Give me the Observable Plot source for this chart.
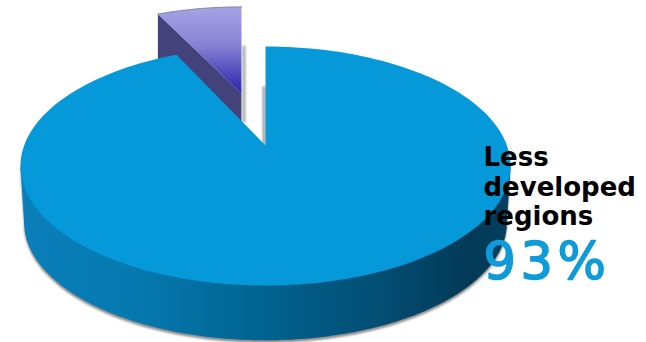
<!DOCTYPE html>
<html>
<head>
<meta charset="utf-8">
<script src="https://cdn.jsdelivr.net/npm/d3@7"></script>
<script src="https://cdn.jsdelivr.net/npm/@observablehq/plot@0.6"></script>
<style>
  html, body { margin: 0; padding: 0; background: #fff; }
  svg { display: block; }
  .share-label { letter-spacing: 4.5px; }
</style>
</head>
<body>
<div id="chart"></div>
<script>
// Share of the total held by each slice, in percent.
const regions = ["Less developed regions", "More developed regions"];
const shares = [93, 7];
const labelLines = ["Less", "developed", "regions"];

const W = 646, H = 342;

// Pie plane seen in perspective: everything is measured in pie radii.
const tilt = 0.1716;
const scaleX = 241.4 / 116;      // horizontal stretch of the tilted disc
const thickness = 0.49;          // rim height of the main slice
const fullTurn = 2 * Math.PI;

function project(angle, {radius = 1, sx = 1, sy = 1, ox = 0, oy = 0} = {}) {
  const X = radius * Math.sin(angle), Y = radius * Math.cos(angle);
  const w = 1 + tilt * Y;
  return {x: ox + sx * scaleX * X / w, y: oy + sy * Y / w};
}

function arc(from, to, opts, steps = 160) {
  return d3.range(steps + 1).map(i => project(from + (to - from) * i / steps, opts));
}

const mainEnd = fullTurn * shares[0] / 100;
const apex = {x: 0, y: 0};

// Top face of the main slice runs clockwise from twelve o'clock.
const mainTop = [apex, ...arc(0, mainEnd)];

// Visible front wall: between the two horizontal extremes of the disc.
const extreme = Math.PI / 2 + Math.asin(tilt);
const floor = {sx: 0.985, sy: 0.985, oy: -thickness};
const mainWall = [
  project(extreme),
  ...arc(extreme, fullTurn - extreme, floor),
  project(fullTurn - extreme)
];

// The small slice is pulled out from the centre and sits further back.
const pulled = {sx: 0.94, sy: 0.875, ox: -24 / 116, oy: 52 / 116};
const pulledTop = [project(0, {...pulled, radius: 0}), ...arc(mainEnd, fullTurn, pulled, 40)];
const pulledRim = arc(mainEnd, fullTurn, pulled, 40);
const pulledCorner = project(mainEnd, pulled);
const pulledWall = [
  pulledTop[0],
  pulledCorner,
  {x: pulledCorner.x, y: pulledCorner.y - 0.5},
  {x: pulledTop[0].x, y: pulledTop[0].y - 0.5}
];

// Soft grey edges beside the cut faces.
const mainCutShade = [apex, project(0, {radius: 0.55})];
const pulledCutShade = [project(0, {...pulled, radius: 0.5}), {x: pulledTop[0].x, y: pulledTop[0].y - 0.24}];

const soften = (index, scales, values, dimensions, context, next) => {
  const g = next(index, scales, values, dimensions, context);
  g.setAttribute("filter", "url(#soft)");
  return g;
};

const defs = () => d3.create("svg:defs").html(`
  <linearGradient id="wall" x1="0" x2="1" y1="0" y2="0">
    <stop offset="0" stop-color="#0a7fba"/>
    <stop offset="0.25" stop-color="#0578ae"/>
    <stop offset="0.5" stop-color="#01628f"/>
    <stop offset="0.72" stop-color="#034f75"/>
    <stop offset="0.92" stop-color="#023a56"/>
    <stop offset="1" stop-color="#04405f"/>
  </linearGradient>
  <linearGradient id="lavender" x1="0" x2="0" y1="0" y2="1">
    <stop offset="0" stop-color="#a7a3e4"/>
    <stop offset="0.45" stop-color="#8781d4"/>
    <stop offset="0.8" stop-color="#4a43ba"/>
    <stop offset="1" stop-color="#2a22a8"/>
  </linearGradient>
  <filter id="soft" filterUnits="userSpaceOnUse" x="0" y="0" width="${W}" height="${H}">
    <feGaussianBlur stdDeviation="0.8"/>
  </filter>
`).node();

const chart = Plot.plot({
  width: W,
  height: H,
  margin: 0,
  style: {background: "#fff"},
  x: {domain: [-265 / 116, (W - 265) / 116], range: [0, W], axis: null},
  y: {domain: [145 / 116, (145 - H) / 116], range: [0, H], axis: null},
  marks: [
    defs,
    // small slice
    Plot.line(pulledWall, {x: "x", y: "y", fill: "#43427a", stroke: "none"}),
    Plot.line(pulledTop, {x: "x", y: "y", fill: "url(#lavender)", stroke: "none"}),
    Plot.line(pulledRim, {x: "x", y: "y", stroke: "#77758f", strokeWidth: 0.8}),
    Plot.line(pulledCutShade, {x: "x", y: "y", stroke: "#a8a8a8", strokeWidth: 3, dx: 2.5, render: soften}),
    // main slice
    Plot.line(mainWall, {x: "x", y: "y", fill: "#8a8a8a", stroke: "none", dy: 2.5, render: soften}),
    Plot.line(mainCutShade, {x: "x", y: "y", stroke: "#8f8f8f", strokeWidth: 2.5, dx: -1.5, render: soften}),
    Plot.line(mainWall, {x: "x", y: "y", fill: "url(#wall)", stroke: "none"}),
    Plot.line(mainTop, {x: "x", y: "y", fill: "#0599d9", stroke: "none"}),
    // label
    Plot.text([labelLines.join("\n")], {
      frameAnchor: "top-left", dx: 483, dy: 145,
      lineAnchor: "top", textAnchor: "start", lineHeight: 1.13,
      fontFamily: "DejaVu Sans", fontWeight: 700, fontSize: 26, fill: "#000"
    }),
    Plot.text([`${shares[0]}%`], {
      frameAnchor: "top-left", dx: 483, dy: 242,
      lineAnchor: "top", textAnchor: "start",
      fontFamily: "DejaVu Sans", fontWeight: 400, fontSize: 51, fill: "#0f9bd9",
      stroke: "#0f9bd9", strokeWidth: 1.6, className: "share-label"
    })
  ]
});

document.getElementById("chart").appendChild(chart);
</script>
</body>
</html>
